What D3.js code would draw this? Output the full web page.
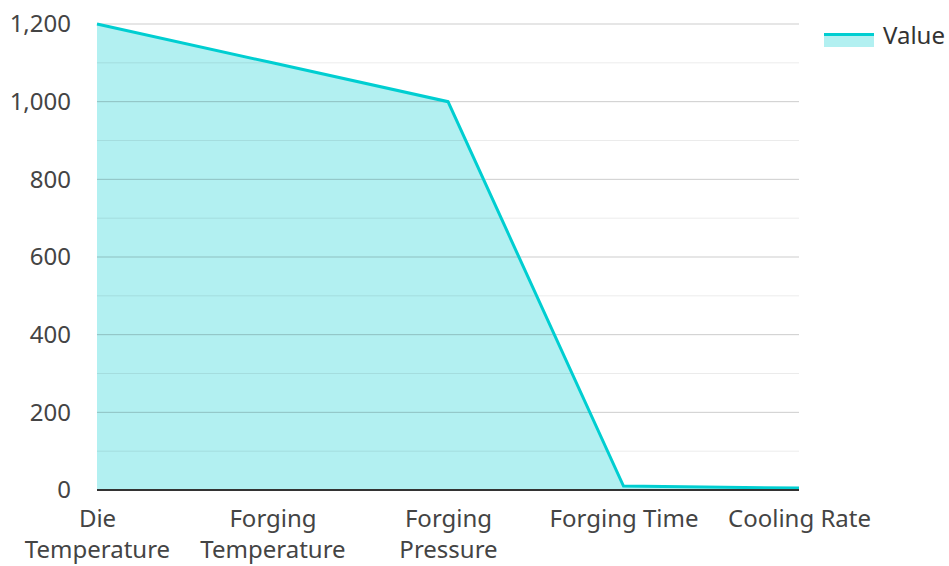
<!DOCTYPE html>
<html>
<head>
<meta charset="utf-8">
<script src="https://cdn.jsdelivr.net/npm/d3@7"></script>
<style>
  html, body { margin: 0; padding: 0; background: #fff; }
  svg { display: block; font-family: "Noto Sans", "Open Sans", sans-serif; }
</style>
</head>
<body>
<svg id="chart" width="949" height="566"></svg>
<script>
// Forging process parameters
const categories = ["Die Temperature", "Forging Temperature", "Forging Pressure", "Forging Time", "Cooling Rate"];
const values = [1200, 1100, 1000, 10, 5];
const majorTicks = [0, 200, 400, 600, 800, 1000, 1200];
const minorTicks = [100, 300, 500, 700, 900, 1100];
const seriesName = "Value";

const lineColor = "#00CED1";
const fillColor = "rgba(0,206,209,0.3)";
const fontSize = 24;

const svg = d3.select("#chart");
const margin = { left: 97, right: 150, top: 24, bottom: 76 };
const width = 949 - margin.left - margin.right;
const height = 566 - margin.top - margin.bottom;

const g = svg.append("g").attr("transform", `translate(${margin.left},${margin.top})`);

const x = d3.scalePoint().domain(categories).range([0, width]);
const y = d3.scaleLinear().domain([0, 1200]).range([height, 0]);

const data = categories.map((c, i) => ({ c, v: values[i] }));

// area fill
g.append("path")
  .datum(data)
  .attr("fill", fillColor)
  .attr("d", d3.area().x(d => x(d.c)).y0(y(0)).y1(d => y(d.v)));

// gridlines
g.selectAll(".minor").data(minorTicks).join("line")
  .attr("x1", 0).attr("x2", width)
  .attr("y1", d => y(d)).attr("y2", d => y(d))
  .attr("stroke", "rgba(0,0,0,0.08)").attr("stroke-width", 1);
g.selectAll(".major").data(majorTicks.filter(d => d > 0)).join("line")
  .attr("x1", 0).attr("x2", width)
  .attr("y1", d => y(d)).attr("y2", d => y(d))
  .attr("stroke", "rgba(0,0,0,0.2)").attr("stroke-width", 1);

// line
g.append("path")
  .datum(data)
  .attr("fill", "none")
  .attr("stroke", lineColor)
  .attr("stroke-width", 3)
  .attr("stroke-linejoin", "miter")
  .attr("d", d3.line().x(d => x(d.c)).y(d => y(d.v)));

// baseline
g.append("line")
  .attr("x1", 0).attr("x2", width)
  .attr("y1", y(0)).attr("y2", y(0))
  .attr("stroke", "#333").attr("stroke-width", 2);

// y axis labels
const yAxis = g.append("g").call(d3.axisLeft(y).tickValues(majorTicks).tickFormat(d3.format(",")).tickSize(0).tickPadding(26));
yAxis.select(".domain").remove();
yAxis.selectAll("text").attr("font-size", fontSize).attr("fill", "#444").attr("font-family", "\"Noto Sans\", sans-serif");

// x axis labels, wrapped to two lines where needed
const xAxis = g.append("g").attr("transform", `translate(0,${height})`)
  .call(d3.axisBottom(x).tickSize(0).tickPadding(20));
xAxis.select(".domain").remove();
xAxis.selectAll("text")
  .attr("font-size", fontSize).attr("fill", "#444").attr("font-family", "\"Noto Sans\", sans-serif")
  .each(function(d) {
    const t = d3.select(this);
    const words = d.split(" ");
    const lines = (d === "Forging Time" || d === "Cooling Rate") ? [d] : words;
    t.text(null);
    lines.forEach((w, i) => {
      t.append("tspan").attr("x", 0).attr("dy", i === 0 ? "0.71em" : "1.3em").text(w);
    });
  });

// legend
const lg = svg.append("g").attr("transform", "translate(824,33)");
lg.append("rect").attr("x", 0).attr("y", 0).attr("width", 50).attr("height", 14).attr("fill", fillColor);
lg.append("line").attr("x1", 0).attr("x2", 50).attr("y1", 1.5).attr("y2", 1.5).attr("stroke", lineColor).attr("stroke-width", 3);
lg.append("text").attr("x", 59).attr("y", 3).attr("dy", "0.35em")
  .attr("font-size", fontSize).attr("fill", "#333").text(seriesName);
</script>
</body>
</html>
